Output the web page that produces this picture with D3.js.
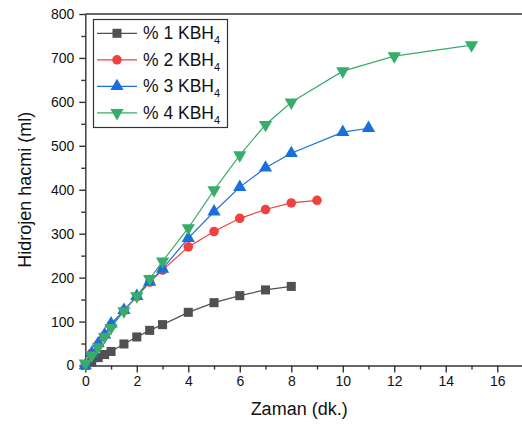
<!DOCTYPE html>
<html>
<head>
<meta charset="utf-8">
<script src="https://cdn.jsdelivr.net/npm/d3@7"></script>
<style>
  body { margin: 0; background: #fff; }
  svg { display: block; font-family: "Liberation Sans", Arial, sans-serif; }
</style>
</head>
<body>
<div id="chart"></div>
<script>
// time values (dk.) for each series
const t1 = [0, 0.25, 0.5, 0.75, 1, 1.5, 2, 2.5, 3, 4, 5, 6, 7, 8];
const t2 = [0, 0.25, 0.5, 0.75, 1, 1.5, 2, 2.5, 3, 4, 5, 6, 7, 8, 9];
const t3 = [0, 0.25, 0.5, 0.75, 1, 1.5, 2, 2.5, 3, 4, 5, 6, 7, 8, 10, 11];
const t4 = [0, 0.25, 0.5, 0.75, 1, 1.5, 2, 2.5, 3, 4, 5, 6, 7, 8, 10, 12, 15];

// hydrogen volume (ml)
const v1 = [0, 8, 18, 25, 32, 49, 65, 80, 93, 121, 143, 159, 172, 180];
const v2 = [0, 28, 48, 68, 90, 125, 157, 190, 217, 270, 305, 335, 355, 370, 376];
const v3 = [0, 28, 50, 70, 95, 126, 158, 190, 220, 290, 350, 406, 450, 483, 531, 540];
const v4 = [5, 23, 42, 65, 86, 124, 158, 197, 237, 313, 399, 479, 548, 599, 670, 704, 729];

const seriesNames = ["1", "2", "3", "4"];
const xTicks = [0, 2, 4, 6, 8, 10, 12, 14, 16];
const yTicks = [0, 100, 200, 300, 400, 500, 600, 700, 800];

const colors = ["#515151", "#F14040", "#1A6FDF", "#37AD6B"];
const symbols = [d3.symbolSquare, d3.symbolCircle, d3.symbolTriangle, d3.symbolTriangle];
const symSize = [82, 72, 76, 76];
const symRot = [0, 0, 0, 180];

const series = [[t1, v1], [t2, v2], [t3, v3], [t4, v4]].map(([t, v], i) => ({
    name: seriesNames[i],
    color: colors[i],
    idx: i,
    points: t.map((x, j) => ({ x: x, y: v[j] }))
}));

const width = 522, height = 424;
const margin = { top: 14, right: 0, bottom: 58.5, left: 85.3 };
const innerWidth = 437.7;
const innerHeight = height - margin.top - margin.bottom;

const svg = d3.select("#chart").append("svg")
    .attr("width", width)
    .attr("height", height);

const g = svg.append("g")
    .attr("transform", `translate(${margin.left}, ${margin.top})`);

const x = d3.scaleLinear().domain([0, 17]).range([0, innerWidth]);
const y = d3.scaleLinear().domain([0, 800]).range([innerHeight, 0]);

const axisColor = "#333";

// frame (top line)
g.append("line")
    .attr("x1", 0).attr("x2", innerWidth)
    .attr("y1", 0).attr("y2", 0)
    .attr("stroke", axisColor).attr("stroke-width", 1.5);

// X axis
g.append("g")
    .attr("transform", `translate(0,${innerHeight})`)
    .call(d3.axisBottom(x).tickValues(xTicks).tickSize(7).tickPadding(4).tickSizeOuter(0));
// minor x ticks
const xMinor = g.append("g")
    .attr("transform", `translate(0,${innerHeight})`)
    .call(d3.axisBottom(x).tickValues(d3.range(1, 17, 2)).tickSize(4).tickSizeOuter(0));
xMinor.select(".domain").remove();
xMinor.selectAll("text").remove();

// Y axis
g.append("g")
    .call(d3.axisLeft(y).tickValues(yTicks).tickSize(6).tickPadding(5).tickSizeOuter(0));
const yMinor = g.append("g")
    .call(d3.axisLeft(y).tickValues(d3.range(50, 800, 100)).tickSize(4).tickSizeOuter(0));
yMinor.select(".domain").remove();
yMinor.selectAll("text").remove();

g.selectAll(".domain, .tick line")
    .attr("stroke", axisColor)
    .attr("stroke-width", 1.4);
g.selectAll(".tick text")
    .attr("fill", "#111")
    .style("font-size", "14px")
    .style("font-family", "'Liberation Sans', Arial, sans-serif");

// X-axis label
g.append("text")
    .attr("text-anchor", "middle")
    .attr("x", x(8.5) - 5)
    .attr("y", innerHeight + 49.5)
    .attr("fill", "#111")
    .style("font-size", "18px")
    .text("Zaman (dk.)");

// Y-axis label
g.append("text")
    .attr("text-anchor", "middle")
    .attr("transform", "rotate(-90)")
    .attr("x", -(y(400)))
    .attr("y", -54)
    .attr("fill", "#111")
    .style("font-size", "18px")
    .text("Hidrojen hacmi (ml)");

// lines
const line = d3.line().x(d => x(d.x)).y(d => y(d.y));
series.forEach(s => {
    g.append("path")
        .datum(s.points)
        .attr("fill", "none")
        .attr("stroke", s.color)
        .attr("stroke-width", 1.2)
        .attr("d", line);
});

// markers
series.forEach(s => {
    g.selectAll(`path.m${s.idx}`)
        .data(s.points)
        .enter().append("path")
        .attr("class", `m${s.idx}`)
        .attr("d", d3.symbol().type(symbols[s.idx]).size(symSize[s.idx]))
        .attr("transform", d => `translate(${x(d.x)},${y(d.y)}) rotate(${symRot[s.idx]})`)
        .attr("fill", s.color);
});

// Legend
const legend = svg.append("g");
legend.append("rect")
    .attr("x", 93.5).attr("y", 19.5)
    .attr("width", 134).attr("height", 108)
    .attr("fill", "#fff")
    .attr("stroke", "#333")
    .attr("stroke-width", 1.2);

series.forEach((s, i) => {
    const cy = 33.3 + i * 26.5;
    const row = legend.append("g");
    row.append("line")
        .attr("x1", 97).attr("x2", 137)
        .attr("y1", cy).attr("y2", cy)
        .attr("stroke", s.color).attr("stroke-width", 1.2);
    row.append("path")
        .attr("d", d3.symbol().type(symbols[i]).size(symSize[i]))
        .attr("transform", `translate(117,${cy}) rotate(${symRot[i]})`)
        .attr("fill", s.color);
    const txt = row.append("text")
        .attr("x", 143)
        .attr("y", cy + 6)
        .attr("fill", "#111")
        .style("font-size", "17.5px");
    txt.append("tspan").text(`% ${s.name} KBH`);
    txt.append("tspan")
        .attr("dy", 5)
        .style("font-size", "11px")
        .text("4");
});
</script>
</body>
</html>
